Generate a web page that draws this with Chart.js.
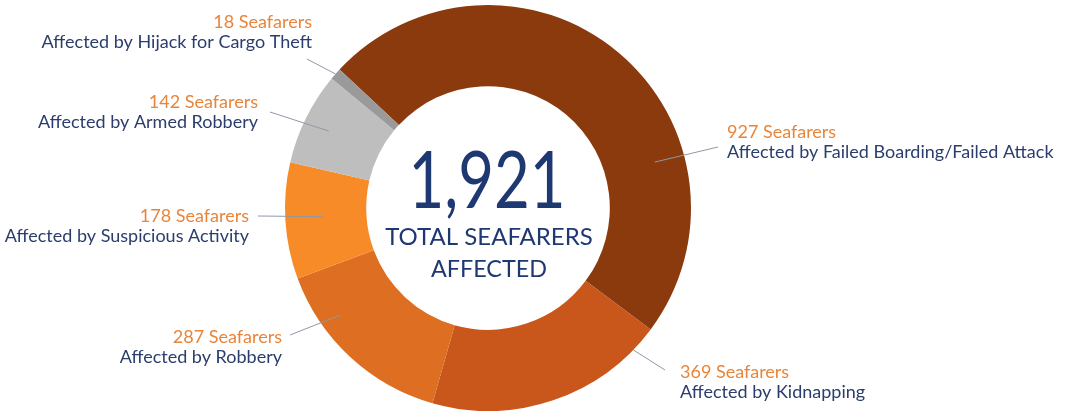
<!DOCTYPE html>
<html>
<head>
<meta charset="utf-8">
<script src="https://cdn.jsdelivr.net/npm/chart.js@4"></script>
<style>
  html, body { margin: 0; padding: 0; background: #fff; }
  #seafarers { display: block; }
</style>
</head>
<body>
<canvas id="seafarers" width="1066" height="411"></canvas>
<script>
const categories = [
    'Affected by Failed Boarding/Failed Attack',
    'Affected by Kidnapping',
    'Affected by Robbery',
    'Affected by Suspicious Activity',
    'Affected by Armed Robbery',
    'Affected by Hijack for Cargo Theft'
];
const seafarers = [927, 369, 287, 178, 142, 18];
const sliceColors = ['#8a3a0c', '#c9561a', '#de6e21', '#f68b28', '#bebebe', '#9a9a9a'];
const totalLabel = ['TOTAL SEAFARERS', 'AFFECTED'];

// where each caption sits and where its leader line meets the ring
// t = position along the arc, f = position across the ring (0 inner, 1 outer)
const captions = [
    { x: 727, y: 138, align: 'left',  lineEnd: [718, 147], t: 0.70, f: 0.63 },
    { x: 680, y: 378, align: 'left',  lineEnd: [665, 370], t: 0.11, f: 1.00 },
    { x: 282, y: 343, align: 'right', lineEnd: [290, 335], t: 0.71, f: 0.75 },
    { x: 249, y: 222, align: 'right', lineEnd: [258, 216], t: 0.52, f: 0.54 },
    { x: 258, y: 108, align: 'right', lineEnd: [270, 112], t: 0.48, f: 0.68 },
    { x: 312, y: 28,  align: 'right', lineEnd: [307, 59],  t: 0.50, f: 1.00 }
];

const ORANGE = '#e8853a';
const NAVY = '#2a3d6c';

const fmt = n => n.toLocaleString('en-US');

const labelsPlugin = {
    id: 'seafarerLabels',
    afterDatasetsDraw(chart) {
        const ctx = chart.ctx;
        const meta = chart.getDatasetMeta(0);
        const total = seafarers.reduce((a, b) => a + b, 0);

        ctx.save();
        // leader lines
        ctx.strokeStyle = '#8d99a6';
        ctx.lineWidth = 1;
        meta.data.forEach((arc, i) => {
            const c = captions[i];
            const p = arc.getProps(['x', 'y', 'startAngle', 'endAngle', 'innerRadius', 'outerRadius'], true);
            const a = p.startAngle + c.t * (p.endAngle - p.startAngle);
            const r = p.innerRadius + c.f * (p.outerRadius - p.innerRadius);
            ctx.beginPath();
            ctx.moveTo(p.x + Math.cos(a) * r, p.y + Math.sin(a) * r);
            ctx.lineTo(c.lineEnd[0], c.lineEnd[1]);
            ctx.stroke();
        });

        // captions
        ctx.textBaseline = 'alphabetic';
        categories.forEach((cat, i) => {
            const c = captions[i];
            ctx.textAlign = c.align;
            ctx.font = '18px Lato, "Open Sans", sans-serif';
            ctx.fillStyle = ORANGE;
            ctx.fillText(fmt(seafarers[i]) + ' Seafarers', c.x, c.y);
            ctx.fillStyle = NAVY;
            ctx.fillText(cat, c.x, c.y + 20);
        });

        // total in the hole
        const cx = meta.data[0].x;
        ctx.textAlign = 'center';
        ctx.fillStyle = '#1e3872';
        ctx.font = '400 80px Lato, "Open Sans", sans-serif';
        ctx.fillText(fmt(total), cx - 1, 208, 157);
        ctx.font = '400 24px Lato, "Open Sans", sans-serif';
        ctx.fillText(totalLabel[0], cx + 1, 245, 212);
        ctx.fillText(totalLabel[1], cx + 1, 277, 116);
        ctx.restore();
    }
};

new Chart(document.getElementById('seafarers'), {
    type: 'doughnut',
    data: {
        labels: categories,
        datasets: [{
            data: seafarers,
            backgroundColor: sliceColors,
            borderWidth: 0
        }]
    },
    options: {
        responsive: false,
        animation: false,
        rotation: -47,
        cutout: '60%',
        layout: { padding: { left: 285, right: 375, top: 5, bottom: 0 } },
        plugins: {
            legend: { display: false },
            tooltip: { enabled: false }
        }
    },
    plugins: [labelsPlugin]
});
</script>
</body>
</html>
